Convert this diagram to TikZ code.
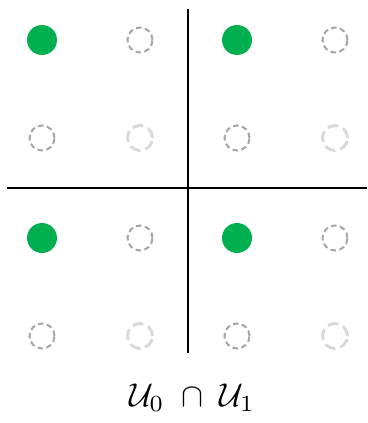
\documentclass[tikz,border=0pt]{standalone}
\begin{document}
\begin{tikzpicture}[x=1pt,y=-1pt,
  fulldot/.style={circle,fill=dotgreen,draw=none,minimum size=30pt,inner sep=0pt},
  emptydot/.style={circle,draw=dotgray,dash pattern=on 5.5pt off 3.5pt,line width=2pt,minimum size=25pt,inner sep=0pt},
  faintdot/.style={circle,draw=dotlight,dash pattern=on 11pt off 5pt,line width=3pt,minimum size=25pt,inner sep=0pt},
  axis/.style={line width=2.3pt,black}]
\definecolor{dotgreen}{HTML}{00B050}
\definecolor{dotgray}{HTML}{A6A6A6}
\definecolor{dotlight}{HTML}{D9D9D9}
\useasboundingbox (0,0) rectangle (367,423);
% row 1
\node[fulldot] (a11) at (42,40) {};
\node[emptydot] (a12) at (140,40) {};
\node[fulldot] (a13) at (237,40) {};
\node[emptydot] (a14) at (335,40) {};
% row 2
\node[emptydot] (a21) at (42,138) {};
\node[faintdot] (a22) at (140,138) {};
\node[emptydot] (a23) at (237,138) {};
\node[faintdot] (a24) at (335,138) {};
% row 3
\node[fulldot] (a31) at (42,238) {};
\node[emptydot] (a32) at (140,238) {};
\node[fulldot] (a33) at (237,238) {};
\node[emptydot] (a34) at (335,238) {};
% row 4
\node[emptydot] (a41) at (42,336) {};
\node[faintdot] (a42) at (140,336) {};
\node[emptydot] (a43) at (237,336) {};
\node[faintdot] (a44) at (335,336) {};
% axes
\coordinate (vt) at (188,9);
\coordinate (vb) at (188,353);
\coordinate (hl) at (7,188);
\coordinate (hr) at (367,188);
\draw[axis] (vt) -- (vb);
\draw[axis] (hl) -- (hr);
% label
\node[scale=3.3] (lbl) at (192,398) {$\mathcal{U}_0\;\cap\;\mathcal{U}_1$};
\end{tikzpicture}
\end{document}
